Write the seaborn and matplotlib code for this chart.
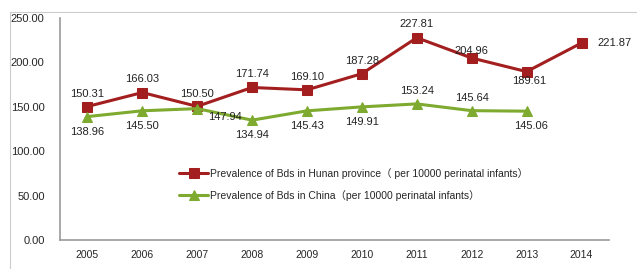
import pandas as pd
import numpy as np
import matplotlib.pyplot as plt
import seaborn as sns
from matplotlib.patches import Rectangle

# data
years = ['2005', '2006', '2007', '2008', '2009', '2010', '2011', '2012', '2013', '2014']
hunan = [150.31, 166.03, 150.50, 171.74, 169.10, 187.28, 227.81, 204.96, 189.61, 221.87]
china = [138.96, 145.50, 147.94, 134.94, 145.43, 149.91, 153.24, 145.64, 145.06]
y_ticks = [0, 50, 100, 150, 200, 250]

hunan_label = 'Prevalence of Bds in Hunan province（ per 10000 perinatal infants）'
china_label = 'Prevalence of Bds in China（per 10000 perinatal infants）'

red = '#A31F1F'
green = '#7DAA2F'

sns.set_style('white')
plt.rcParams['font.family'] = ['Liberation Sans', 'Noto Sans CJK SC', 'DejaVu Sans']

df_h = pd.DataFrame({'x': np.arange(len(hunan)), 'v': hunan})
df_c = pd.DataFrame({'x': np.arange(len(china)), 'v': china})

fig = plt.figure(figsize=(6.37, 2.69), dpi=100)
ax = fig.add_axes([0.094, 0.108, 0.862, 0.825])

sns.lineplot(data=df_h, x='x', y='v', ax=ax, color=red, linewidth=2.2,
             marker='s', markersize=7.5, markeredgecolor=red, label=hunan_label)
sns.lineplot(data=df_c, x='x', y='v', ax=ax, color=green, linewidth=2.2,
             marker='^', markersize=7.5, markeredgecolor=green, label=china_label)

# value labels (offsets in points)
h_off = [(0, 9), (0, 10), (0, 9), (0, 10), (0, 9), (0, 9), (0, 10), (0, 5), (2, -7), (24, 0)]
c_off = [(0, -11), (0, -11), (20, -6), (0, -11), (0, -11), (0, -11), (0, 9), (0, 9), (3, -11)]
for i, v in enumerate(hunan):
    ax.annotate(f'{v:.2f}', (i, v), xytext=h_off[i], textcoords='offset points',
                ha='center', va='center', fontsize=8, color='#222222')
for i, v in enumerate(china):
    ax.annotate(f'{v:.2f}', (i, v), xytext=c_off[i], textcoords='offset points',
                ha='center', va='center', fontsize=8, color='#222222')

ax.set_xlim(-0.5, len(years) - 0.5)
ax.set_ylim(0, 250)
ax.set_yticks(y_ticks)
ax.set_yticklabels([f'{t:.2f}' for t in y_ticks], fontsize=8)
ax.set_xticks(np.arange(-0.5, len(years)))
ax.set_xticklabels([])
ax.set_xticks(np.arange(len(years)), minor=True)
ax.set_xticklabels(years, minor=True, fontsize=7.5)
ax.tick_params(axis='x', which='minor', length=0, pad=7)
ax.tick_params(axis='x', which='major', length=4, direction='inout', color='#888888')
ax.tick_params(axis='y', length=4, direction='out', color='#888888', pad=7)
ax.set_xlabel('')
ax.set_ylabel('')
sns.despine(ax=ax)
for s in ['left', 'bottom']:
    ax.spines[s].set_color('#999999')
    ax.spines[s].set_linewidth(1.2)

ax.legend(loc='center left', bbox_to_anchor=(0.2, 0.25), frameon=False,
          fontsize=7.5, handlelength=2.8, labelspacing=1.1, handletextpad=0.2)

# thin frame lines of the original image
fig.add_artist(Rectangle((10 / 637, -0.1), 1.0, 1.1 - 12 / 269, transform=fig.transFigure,
                         fill=False, edgecolor='#cccccc', linewidth=0.8))

plt.savefig('out.png', dpi=100)
plt.close()
